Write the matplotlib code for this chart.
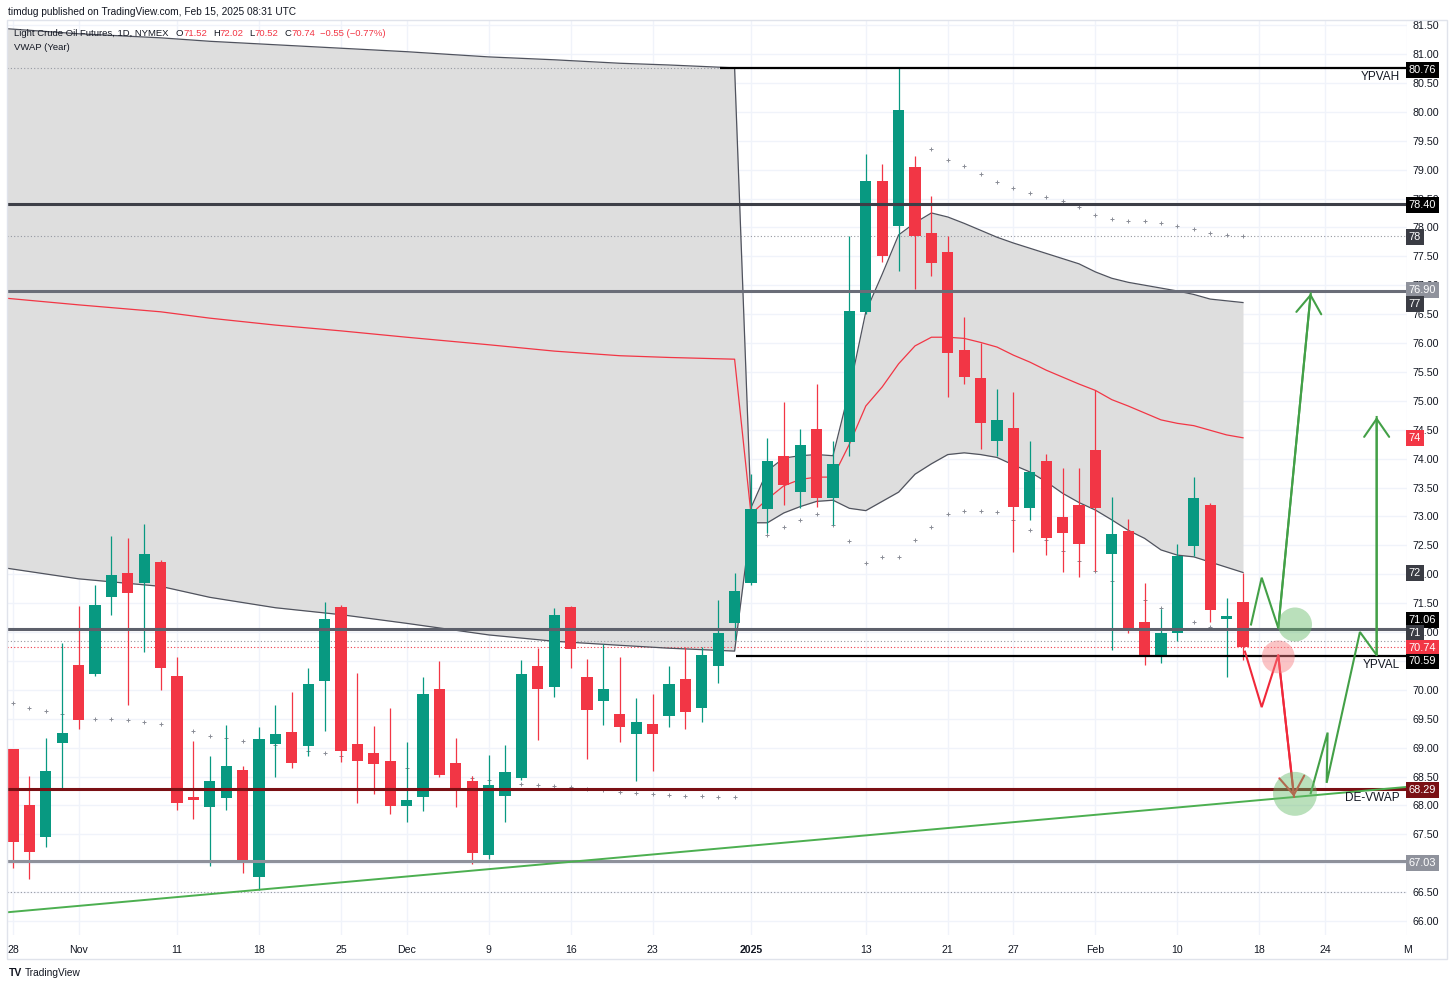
import numpy as np
import matplotlib
matplotlib.use("Agg")
import matplotlib.pyplot as plt
import matplotlib.transforms as mtransforms
from matplotlib.patches import Rectangle

plt.rcParams['font.family'] = ['Liberation Sans', 'DejaVu Sans']

# ---------------- data ----------------
# trading-day index 0 = Oct 28 2024, 75 = Feb 14 2025
tick_pos = [0, 4, 10, 15, 20, 24, 29, 34, 39, 45, 52, 57, 61, 66, 71, 76, 80, 85]
tick_labels = ["28", "Nov", "11", "18", "25", "Dec", "9", "16", "23", "2025",
               "13", "21", "27", "Feb", "10", "18", "24", "M"]

opens = [68.97, 68.01, 67.46, 69.08, 70.43, 70.27, 71.60, 72.02, 71.85, 72.21,
         70.24, 68.15, 67.97, 68.12, 68.61, 66.77, 69.07, 69.27, 69.03, 70.16,
         71.44, 69.07, 68.90, 68.76, 67.99, 68.15, 70.01, 68.74, 68.43, 67.14,
         68.17, 68.48, 70.41, 70.05, 71.44, 70.22, 69.81, 69.59, 69.23, 69.40,
         69.55, 70.19, 69.68, 70.42, 71.15, 71.84, 73.12, 74.05, 73.42, 74.52,
         73.31, 74.29, 76.53, 78.81, 78.03, 79.04, 77.90, 77.57, 75.88, 75.40,
         74.30, 74.53, 73.15, 73.95, 72.99, 73.19, 74.15, 72.35, 72.75, 71.17,
         70.56, 70.99, 72.49, 73.19, 71.22, 71.52]
highs = [68.98, 68.51, 69.16, 70.81, 71.45, 71.81, 72.66, 72.63, 72.87, 72.25,
         70.56, 69.12, 68.85, 69.39, 68.68, 69.36, 69.74, 69.96, 70.38, 71.52,
         71.47, 70.29, 69.37, 69.68, 69.10, 70.23, 70.50, 69.16, 68.51, 68.88,
         69.04, 70.52, 70.72, 71.41, 71.45, 70.53, 70.80, 70.57, 69.85, 69.93,
         70.42, 70.74, 70.74, 71.55, 72.02, 73.73, 74.36, 74.98, 74.52, 75.29,
         74.31, 77.85, 79.27, 79.09, 80.77, 79.24, 78.55, 77.85, 76.45, 76.00,
         75.21, 75.15, 74.31, 74.08, 73.83, 73.83, 75.19, 73.34, 72.96, 71.84,
         71.39, 72.53, 73.68, 73.23, 71.59, 72.02]
lows = [66.91, 66.72, 67.28, 68.30, 69.32, 70.24, 71.29, 69.74, 70.66, 70.00,
        67.92, 67.76, 66.95, 67.92, 66.83, 66.54, 68.49, 68.64, 68.85, 69.29,
        68.75, 68.05, 68.19, 67.86, 67.71, 67.91, 68.50, 67.98, 66.99, 67.08,
        67.72, 68.44, 69.13, 69.87, 70.37, 68.81, 69.39, 69.10, 68.43, 68.60,
        69.36, 69.33, 69.45, 70.12, 70.87, 71.81, 72.71, 73.20, 73.14, 73.17,
        72.85, 74.04, 76.50, 77.40, 77.24, 76.94, 77.16, 75.07, 75.29, 74.16,
        74.04, 72.39, 72.94, 72.33, 72.03, 71.95, 72.06, 70.69, 70.98, 70.43,
        70.47, 70.85, 72.31, 71.17, 70.23, 70.52]
closes = [67.37, 67.20, 68.60, 69.26, 69.48, 71.46, 71.99, 71.68, 72.35, 70.37,
          68.04, 68.10, 68.42, 68.69, 67.01, 69.15, 69.23, 68.74, 70.10, 71.23,
          68.94, 68.77, 68.71, 67.99, 68.09, 69.92, 68.53, 68.29, 67.18, 68.36,
          68.58, 70.27, 70.01, 71.29, 70.70, 69.65, 70.01, 69.36, 69.45, 69.23,
          70.10, 69.61, 70.60, 70.98, 71.71, 73.12, 73.96, 73.54, 74.24, 73.31,
          73.91, 76.56, 78.81, 77.50, 80.03, 77.85, 77.39, 75.82, 75.42, 74.61,
          74.66, 73.16, 73.77, 72.62, 72.72, 72.52, 73.15, 72.70, 71.03, 70.60,
          70.99, 72.31, 73.32, 71.38, 71.28, 70.74]

# VWAP (Year): 2024 anchor (read at a few days) and 2025 anchor (daily)
vwap24_x = [-1, 4, 9, 12, 16, 20, 24, 29, 33, 37, 40, 44]
upper24 = [81.45, 81.35, 81.28, 81.22, 81.16, 81.10, 81.04, 80.95, 80.90, 80.84, 80.81, 80.76]
vwap24 = [76.79, 76.66, 76.54, 76.43, 76.31, 76.21, 76.10, 75.97, 75.86, 75.78, 75.75, 75.72]
lower24 = [72.13, 71.92, 71.79, 71.60, 71.42, 71.30, 71.15, 70.95, 70.84, 70.77, 70.72, 70.67]

vwap25_x = list(range(45, 76))
upper25 = [73.15, 73.79, 74.01, 74.05, 74.07, 74.05, 75.19, 76.54, 77.19, 77.87,
           78.08, 78.25, 78.18, 78.07, 77.95, 77.83, 77.73, 77.64, 77.55, 77.46,
           77.37, 77.23, 77.12, 77.05, 77.00, 76.95, 76.90, 76.84, 76.76, 76.73, 76.70]
vwap25 = [73.04, 73.30, 73.53, 73.64, 73.68, 73.68, 74.25, 74.91, 75.24, 75.64,
          75.95, 76.10, 76.10, 76.08, 76.01, 75.93, 75.79, 75.67, 75.53, 75.41,
          75.29, 75.18, 75.02, 74.91, 74.79, 74.67, 74.61, 74.57, 74.49, 74.41, 74.36]
lower25 = [72.89, 72.89, 73.06, 73.17, 73.26, 73.28, 73.14, 73.10, 73.26, 73.42,
           73.73, 73.91, 74.07, 74.10, 74.07, 74.02, 73.89, 73.77, 73.60, 73.40,
           73.24, 73.11, 72.94, 72.76, 72.62, 72.42, 72.33, 72.30, 72.21, 72.12, 72.03]

# outer band crosses
low2_24 = [69.78, 69.69, 69.63, 69.58, 69.54, 69.50, 69.49, 69.47, 69.44, 69.41,
           69.36, 69.29, 69.20, 69.16, 69.12, 69.08, 69.04, 68.99, 68.94, 68.90,
           68.85, 68.80, 68.75, 68.70, 68.65, 68.59, 68.54, 68.51, 68.47, 68.44,
           68.41, 68.37, 68.35, 68.33, 68.32, 68.29, 68.27, 68.24, 68.21, 68.19,
           68.18, 68.17, 68.16, 68.15, 68.14]
low2_25 = [72.67, 72.81, 72.94, 73.05, 72.85, 72.58, 72.20, 72.30, 72.30, 72.60,
           72.81, 73.04, 73.10, 73.09, 73.07, 72.94, 72.76, 72.59, 72.40, 72.22,
           72.06, 71.89, 71.73, 71.56, 71.42, 71.29, 71.18, 71.08, 71.03, 70.98]
up2_25 = [79.35, 79.17, 79.06, 78.92, 78.79, 78.69, 78.59, 78.52, 78.45,
          78.36, 78.21, 78.14, 78.11, 78.11, 78.07, 78.03, 77.97, 77.90, 77.87, 77.85]

# horizontal levels drawn on the chart
level_prices = [80.76, 78.40, 76.90, 71.06, 70.59, 68.29, 67.03]
level_from = [43.1, None, None, None, 44.1, None, None]
dotted_prices = [80.76, 77.85, 70.85, 66.51]
last_price = 70.74

# uptrend line (two anchors)
trend_x = [0, 85]
trend_y = [66.16, 68.32]

# projected paths
pathA_x = [75.49, 76.14, 77.15, 79.13]
pathA_y = [71.13, 71.94, 71.07, 76.86]
pathR_x = [75.12, 76.14, 77.15, 78.11]
pathR_y = [70.66, 69.70, 70.60, 68.15]
pathB_x = [79.13, 80.16, 80.10, 82.13, 83.15, 83.15]
pathB_y = [68.21, 69.26, 68.39, 71.00, 70.60, 74.72]
circle_x = [78.17, 77.15, 78.17]
circle_y = [71.13, 70.57, 68.20]

# price scale ticks and tags (text, displayed price)
yticks = [66.0, 66.5, 67.0, 67.5, 68.0, 68.5, 69.0, 69.5, 70.0, 70.5, 71.0, 71.5,
          72.0, 72.5, 73.0, 73.5, 74.0, 74.5, 75.0, 75.5, 76.0, 76.5, 77.0, 77.5,
          78.0, 78.5, 79.0, 79.5, 80.0, 80.5, 81.0, 81.5]
hidden_ticks = [67.0, 70.5]          # fully covered by tags in the reference
tag_text = ["80.76", "78.40", "78", "76.90", "77", "74", "72", "71.06", "71",
            "70.74", "70.59", "68.29", "67.03"]
tag_at = [80.73, 78.39, 77.84, 76.91, 76.67, 74.36, 72.02, 71.20, 70.99,
          70.72, 70.49, 68.27, 67.01]

# ---------------- figure ----------------
W, H = 1456, 988
fig = plt.figure(figsize=(W / 100, H / 100), dpi=100)
ax = fig.add_axes([7 / W, 53 / H, 1400 / W, 914 / H])
ax.set_xlim(-0.366, 85.0)
ax.set_ylim(65.758, 81.571)

GREEN = '#089981'
RED = '#f23645'
TXT = '#131722'

# bands
band_x = vwap24_x + vwap25_x
band_up = upper24 + upper25
band_lo = lower24 + lower25
ax.fill_between(band_x, band_lo, band_up, color='#dedede', lw=0, zorder=1)
ax.plot(band_x, band_up, color='#50535e', lw=0.9, zorder=2)
ax.plot(band_x, band_lo, color='#50535e', lw=0.9, zorder=2)
ax.plot(band_x, vwap24 + vwap25, color=RED, lw=0.9, zorder=2)

cross = dict(ls='none', marker='+', ms=3, mew=0.7, color='#8a8d96', zorder=2)
ax.plot(range(0, 45), low2_24, **cross)
ax.plot(range(46, 76), low2_25, **cross)
ax.plot(range(56, 76), up2_25, **cross)

# dotted price lines
for p in dotted_prices:
    ax.axhline(p, color='#9598a1', lw=0.8, ls=(0, (1, 2)), zorder=1.5)
ax.axhline(last_price, color=RED, lw=0.8, ls=(0, (1, 2)), zorder=1.5)

# candles
x = np.arange(len(opens))
o = np.array(opens)
c = np.array(closes)
cols = [GREEN if cc >= oo else RED for oo, cc in zip(o, c)]
ax.vlines(x, lows, highs, colors=cols, lw=0.9, zorder=3)
ax.bar(x, c - o, bottom=o, width=0.68, color=cols, lw=0, zorder=3.1)

# horizontal levels
level_colors = ['#000000', '#3d3f47', '#6a6d78', '#5d606b', '#000000', '#7a1014', '#8e919b']
level_widths = [1.6, 2.2, 2.2, 2.2, 1.6, 2.2, 2.2]
for p, start, col, lw in zip(level_prices, level_from, level_colors, level_widths):
    if start is None:
        ax.axhline(p, color=col, lw=lw, zorder=4)
    else:
        ax.hlines(p, start, 85.0, color=col, lw=lw, zorder=4)

ax.axline((trend_x[0], trend_y[0]), (trend_x[1], trend_y[1]), color='#4caf50', lw=1.4, zorder=4)

# level names
for name, p in [("YPVAH", level_prices[0]), ("YPVAL", level_prices[4]), ("DE-VWAP", level_prices[5])]:
    ax.annotate(name, xy=(0.995, p), xycoords=('axes fraction', 'data'),
                xytext=(0, -2.5), textcoords='offset points',
                ha='right', va='top', fontsize=8.5, color=TXT, zorder=6)

# projected paths
def draw_path(px, py, col):
    ax.plot(px, py, color=col, lw=1.5, zorder=5, solid_joinstyle='miter')
    ax.annotate('', xy=(px[-1], py[-1]), xytext=(px[-2], py[-2]),
                arrowprops=dict(arrowstyle='->,head_length=0.65,head_width=0.45',
                                color=col, lw=1.5, shrinkA=0, shrinkB=0,
                                mutation_scale=20), zorder=5)

draw_path(pathA_x, pathA_y, '#43a047')
draw_path(pathR_x, pathR_y, '#f0283a')
draw_path(pathB_x, pathB_y, '#43a047')

ax.scatter(circle_x, circle_y, s=[600, 560, 1000],
           c=['#66bb6a', '#f77c80', '#66bb6a'], alpha=0.45, lw=0, zorder=6)

# axes cosmetics
for s in ax.spines.values():
    s.set_visible(False)
ax.yaxis.tick_right()
ax.set_yticks(yticks, ['' if v in hidden_ticks else f'{v:.2f}' for v in yticks])
ax.set_xticks(tick_pos, tick_labels)
ax.tick_params(axis='y', length=0, pad=4.2, labelsize=7.7, colors=TXT)
ax.tick_params(axis='x', length=0, pad=7, labelsize=7.6, colors=TXT)
ax.get_xticklabels()[9].set_fontweight('bold')
ax.grid(True, color='#f0f3fa', lw=1.0)
ax.set_axisbelow(True)

# price scale tags
tag_colors = ['#000000', '#000000', '#3a3c44', '#8f929c', '#3a3c44', RED, '#3a3c44',
              '#000000', '#3a3c44', RED, '#000000', '#7a1014', '#8f929c']
btrans = mtransforms.blended_transform_factory(ax.transAxes, ax.transData)
for t, p, col in zip(tag_text, tag_at, tag_colors):
    ax.text(1.0013, p, t, transform=btrans, ha='left', va='center', fontsize=7.9,
            color='white', clip_on=False, zorder=10,
            bbox=dict(boxstyle='square,pad=0.27', fc=col, ec='none'))

# panel frame
fig.add_artist(Rectangle((7 / W, (H - 959) / H), 1440 / W, 939 / H,
                         transform=fig.transFigure, fill=False, ec='#e0e3eb', lw=1))

# header and legend
fig.text(8 / W, 1 - 12 / H, "timdug published on TradingView.com, Feb 15, 2025 08:31 UTC",
         fontsize=7.3, color=TXT, va='center', ha='left')

renderer = fig.canvas.get_renderer()
pieces = [("Light Crude Oil Futures, 1D, NYMEX", TXT, 7), ("O", TXT, 0), ("71.52", RED, 6),
          ("H", TXT, 0), ("72.02", RED, 6), ("L", TXT, 0), ("70.52", RED, 6),
          ("C", TXT, 0), ("70.74", RED, 5), ("\u22120.55 (\u22120.77%)", RED, 0)]
xp = 14
for s, col, gap in pieces:
    t = fig.text(xp / W, 1 - 33 / H, s, fontsize=6.8, color=col, va='center', ha='left')
    xp += t.get_window_extent(renderer).width + gap
fig.text(14 / W, 1 - 47 / H, "VWAP (Year)", fontsize=6.8, color=TXT, va='center', ha='left')

# footer
fig.text(9 / W, 1 - 973 / H, "TV", fontsize=7.5, fontweight='bold', color=TXT, va='center')
fig.text(25 / W, 1 - 973 / H, "TradingView", fontsize=7.3, color=TXT, va='center')

fig.savefig("out.png", dpi=100, facecolor='white')
